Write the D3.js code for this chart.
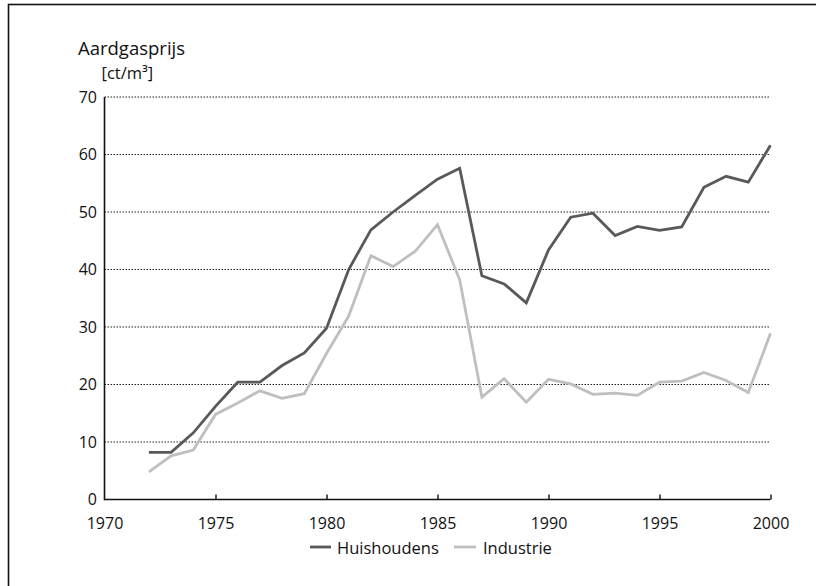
<!DOCTYPE html>
<html><head><meta charset="utf-8">
<script src="https://cdn.jsdelivr.net/npm/d3@7"></script>
<style>
html,body{margin:0;padding:0;background:#fff;}
svg{display:block;font-family:"Open Sans",sans-serif;}
</style></head>
<body>
<svg id="c" width="816" height="586"></svg>
<script>
const years = d3.range(1972, 2001);
const huishoudens = [8.2,8.2,11.6,16.2,20.4,20.4,23.3,25.5,29.8,40.0,46.9,50.0,52.9,55.7,57.6,38.9,37.5,34.2,43.4,49.1,49.8,45.9,47.5,46.8,47.4,54.3,56.2,55.2,61.6];
const industrie = [4.8,7.6,8.6,14.8,16.8,18.9,17.6,18.4,25.4,31.9,42.4,40.5,43.2,47.8,38.2,17.8,21.0,16.9,20.9,20.1,18.3,18.5,18.1,20.4,20.6,22.1,20.7,18.6,28.9];
const xTicks = [1970,1975,1980,1985,1990,1995,2000];
const yTicks = [0,10,20,30,40,50,60,70];
const seriesNames = ["Huishoudens","Industrie"];
const colors = ["#595959","#bfbfbf"];

const svg = d3.select("#c");
// frame
svg.append("rect").attr("x",8.5).attr("y",4.5).attr("width",900).attr("height",700)
  .attr("fill","none").attr("stroke","#111").attr("stroke-width",1.6);

const x = d3.scaleLinear().domain([1970,2000]).range([104.5,770.5]);
const y = d3.scaleLinear().domain([0,70]).range([499.5,97]);

// grid
svg.append("g").selectAll("line").data(yTicks.filter(d=>d>0)).join("line")
  .attr("x1",x(1970)).attr("x2",x(2000)).attr("y1",d=>y(d)).attr("y2",d=>y(d))
  .attr("stroke","#222").attr("stroke-width",1).attr("stroke-dasharray","1.5,1.5");

// y labels
svg.append("g").selectAll("text").data(yTicks).join("text")
  .attr("x",97).attr("y",d=>y(d)+5.8).attr("text-anchor","end")
  .attr("font-size",16).attr("fill","#111").text(d=>d);

// axes lines
svg.append("line").attr("x1",x(1970)).attr("x2",x(1970)).attr("y1",y(70)).attr("y2",y(0)+0.8)
  .attr("stroke","#111").attr("stroke-width",1.6);
const xa = svg.append("g").attr("transform",`translate(0,${y(0)})`)
  .call(d3.axisBottom(x).tickValues(xTicks).tickSize(-5).tickPadding(14).tickFormat(d3.format("d")));
xa.select(".domain").attr("stroke","#111").attr("stroke-width",1.6).attr("d",`M${x(1970)},0H${x(2000)}`);
xa.selectAll(".tick line").attr("stroke","#111").attr("stroke-width",1.4);
xa.selectAll(".tick").filter(d=>d===1970).select("line").remove();
xa.selectAll("text").attr("font-size",16).attr("font-family","'Open Sans',sans-serif")
  .attr("fill","#111").attr("y",29.5).attr("dy",0);

// lines
const line = d3.line().x((d,i)=>x(years[i])).y(d=>y(d));
[industrie, huishoudens].forEach((s,k)=>{
  const c = k===0 ? colors[1] : colors[0];
  svg.append("path").datum(s).attr("d",line).attr("fill","none")
    .attr("stroke",c).attr("stroke-width",2.8).attr("stroke-linejoin","miter");
});

// titles
svg.append("text").attr("x",78).attr("y",54.5).attr("font-size",18.5).attr("fill","#111").text("Aardgasprijs");
svg.append("text").attr("x",101.5).attr("y",79).attr("font-size",16.5).attr("fill","#111")
  .text("[ct/m³]");

// legend
const leg = [{x1:310,x2:331,tx:337},{x1:454,x2:476,tx:483}];
seriesNames.forEach((n,i)=>{
  svg.append("line").attr("x1",leg[i].x1).attr("x2",leg[i].x2).attr("y1",547).attr("y2",547)
    .attr("stroke",colors[i]).attr("stroke-width",2.8);
  svg.append("text").attr("x",leg[i].tx).attr("y",554).attr("font-size",16.5).attr("fill","#111").text(n);
});
</script>
</body></html>
